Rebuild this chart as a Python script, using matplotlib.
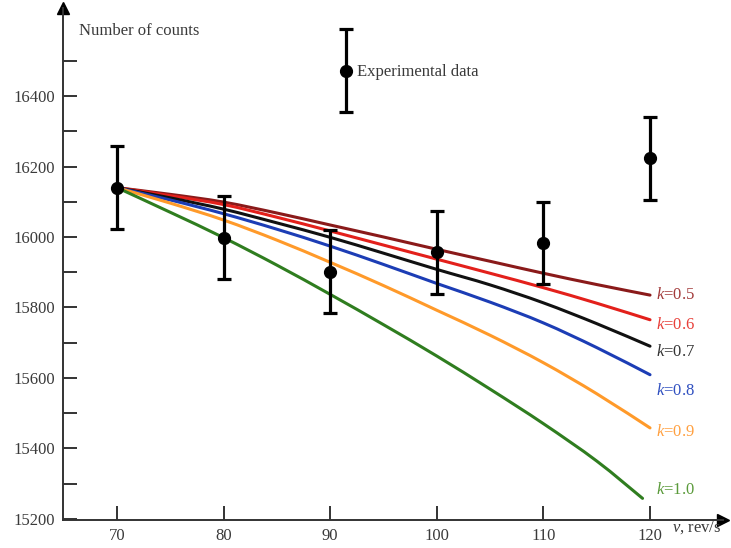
import matplotlib
matplotlib.use("Agg")
import matplotlib.pyplot as plt
from matplotlib.path import Path
from matplotlib.patches import PathPatch
from matplotlib.container import ErrorbarContainer
from matplotlib.legend_handler import HandlerErrorbar

# ---- data ----
speed = [70, 80, 90, 100, 110, 120]                       # rev/s
counts = [16140, 15998, 15902, 15956, 15983, 16224]       # experimental
count_err = [118, 118, 117, 117, 117, 118]

k_values = ["0.5", "0.6", "0.7", "0.8", "0.9", "1.0"]
curve_x = [70, 75, 80, 85, 90, 95, 100, 105, 110, 115, 120]
curve_x_green = [70, 75, 80, 85, 90, 95, 100, 105, 110, 115, 119.3]
k05 = [16140, 16121, 16099, 16068, 16034, 16000, 15965, 15931, 15897, 15865, 15835]
k06 = [16140, 16117, 16092, 16056, 16017, 15977, 15937, 15897, 15856, 15812, 15765]
k07 = [16140, 16111, 16079, 16040, 15999, 15954, 15908, 15864, 15813, 15754, 15690]
k08 = [16140, 16105, 16066, 16022, 15974, 15922, 15868, 15815, 15756, 15686, 15609]
k09 = [16140, 16096, 16048, 15991, 15928, 15862, 15792, 15721, 15643, 15555, 15458]
k10 = [16140, 16070, 15998, 15920, 15837, 15751, 15662, 15568, 15470, 15364, 15258]
curves = [k05, k06, k07, k08, k09, k10]

y_ticks = list(range(15200, 16600, 100))
y_labels = [str(v) if v % 200 == 0 else "" for v in y_ticks]
x_ticks = [70, 80, 90, 100, 110, 120]

# ---- styles ----
colors = ["#8a1a1a", "#e3201b", "#111111", "#1c3db5", "#ff9a2a", "#2f7d1f"]
label_colors = ["#a23a3a", "#e8403a", "#333333", "#3050c0", "#ffa040", "#5a9a3a"]
label_offsets = [0, -4, -4, -12, -3, 6]   # points, vertical nudge of k labels
axis_col = "#333333"
text_col = "#3a3a3a"

plt.rcParams["font.family"] = ["Liberation Serif", "DejaVu Serif"]
plt.rcParams["mathtext.fontset"] = "custom"
plt.rcParams["mathtext.it"] = "Liberation Serif:italic"
plt.rcParams["mathtext.rm"] = "Liberation Serif"


def smooth_path(xs, ys):
    """Catmull-Rom curve through the read points, as cubic Bezier path."""
    pts = list(zip(xs, ys))
    n = len(pts)
    verts = [pts[0]]
    codes = [Path.MOVETO]
    for i in range(n - 1):
        p0 = pts[i - 1] if i > 0 else pts[i]
        p1 = pts[i]
        p2 = pts[i + 1]
        p3 = pts[i + 2] if i + 2 < n else pts[i + 1]
        c1 = (p1[0] + (p2[0] - p0[0]) / 6, p1[1] + (p2[1] - p0[1]) / 6)
        c2 = (p2[0] - (p3[0] - p1[0]) / 6, p2[1] - (p3[1] - p1[1]) / 6)
        verts += [c1, c2, p2]
        codes += [Path.CURVE4] * 3
    return Path(verts, codes)


fig = plt.figure(figsize=(7.31, 5.48), dpi=100)
ax = fig.add_axes([0.0866, 0.052, 0.9025, 0.9334])
ax.set_xlim(64.96, 126.85)
ax.set_ylim(15198, 16650)

for i, (ys, c) in enumerate(zip(curves, colors)):
    xs = curve_x_green if i == len(curves) - 1 else curve_x
    ax.add_patch(PathPatch(smooth_path(xs, ys), facecolor="none", edgecolor=c,
                           lw=2.2, capstyle="round", joinstyle="round", zorder=2))

eb = ax.errorbar(speed, counts, yerr=count_err, fmt="o", color="black",
                 ms=8.5, elinewidth=2.3, capsize=4.7, capthick=2.3, zorder=3)

for ys, kv, lc, off in zip(curves, k_values, label_colors, label_offsets):
    ax.annotate(r"$k$=" + kv, xy=(120, ys[-1]), xytext=(4, off),
                textcoords="offset points", ha="left", va="center",
                color=lc, fontsize=12)

# legend with error-bar sample
leg = ax.legend([eb], ["Experimental data"], loc="center left",
                bbox_to_anchor=(0.4155, 0.874), frameon=False, fontsize=12,
                handlelength=0.0, handletextpad=0.67, borderpad=0,
                handler_map={ErrorbarContainer: HandlerErrorbar(xerr_size=0.5, yerr_size=2.5)})
for t in leg.get_texts():
    t.set_color(text_col)

# axes styling
for s in ["top", "right"]:
    ax.spines[s].set_visible(False)
for s in ["left", "bottom"]:
    ax.spines[s].set_color(axis_col)
    ax.spines[s].set_linewidth(1.4)
ax.set_yticks(y_ticks)
ax.set_yticklabels(y_labels)
ax.set_xticks(x_ticks)
ax.tick_params(direction="in", length=10, width=1.4, color=axis_col,
               labelsize=12, labelcolor=text_col)
ax.tick_params(axis="y", pad=6)
ax.tick_params(axis="x", pad=6)

# arrow heads
ax.plot(1, 0, marker=">", ms=9, color="black", transform=ax.transAxes, clip_on=False)
ax.plot(0, 1, marker="^", ms=9, color="black", transform=ax.transAxes, clip_on=False)

ax.text(0.024, 0.955, "Number of counts", transform=ax.transAxes, fontsize=12,
        color=text_col, ha="left", va="center")
fig.text(0.919, 0.037, r"$v$, rev/s", fontsize=12, color=text_col, ha="left", va="center")

fig.savefig("out.png", dpi=100)
